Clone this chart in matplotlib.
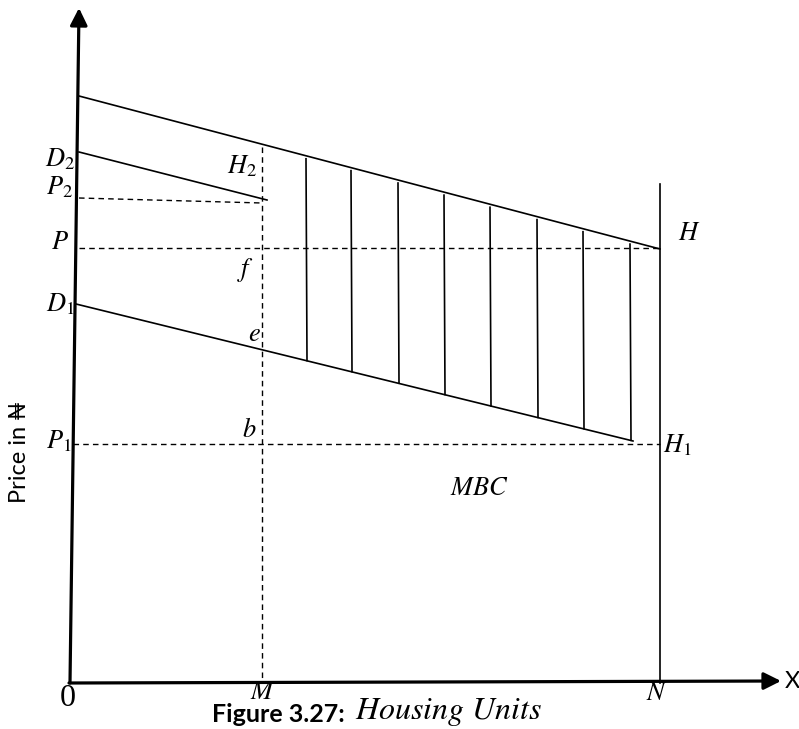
import matplotlib.pyplot as plt
import numpy as np

plt.rcParams['mathtext.fontset'] = 'stix'

# Diagram geometry (picture units: x to the right, y downward)
origin = (70, 683)
y_axis_tip = (79, 8)
x_axis_tip = (781, 681)

# solid lines: top demand line, D2 line, D1 line
top_x = [79, 660]
top_y = [96, 249]
d2_x = [79, 267]
d2_y = [152, 200]
d1_x = [76, 633]
d1_y = [304, 441]

# dashed guide lines
p2_x = [79, 262]
p2_y = [198, 203]
p_x = [79, 660]
p_y = [248, 248]
p1_x = [73, 660]
p1_y = [444, 444]
m_x = [262, 262]
m_y = [147, 683]

# vertical supply line at N
n_x = [660, 660]
n_y = [184, 683]

# hatching between the top line and D1
hatch_x = [306, 351, 398, 444, 490, 537, 583, 630]

# labels
math_labels = ['$D_2$', '$P_2$', '$P$', '$D_1$', '$P_1$', '$H_2$', '$f$', '$e$', '$b$',
               '$H$', '$H_1$', '$MBC$', '$M$', '$N$']
math_x = [60, 59, 60, 60, 59, 242, 246, 254, 249, 689, 677, 479, 263, 657]
math_y = [159, 187, 242, 304, 441, 166, 270, 334, 430, 233, 445, 488, 692, 693]

fig = plt.figure(figsize=(7.99, 7.29), dpi=100)
ax = fig.add_axes([0, 0, 1, 1])
ax.set_xlim(0, 799)
ax.set_ylim(729, 0)
ax.axis('off')

# axes with arrowheads
ax.annotate('', xy=y_axis_tip, xytext=origin,
            arrowprops=dict(arrowstyle='-|>', lw=2.3, color='black', mutation_scale=26,
                            shrinkA=0, shrinkB=0))
ax.annotate('', xy=x_axis_tip, xytext=(origin[0] - 1, origin[1]),
            arrowprops=dict(arrowstyle='-|>', lw=2.3, color='black', mutation_scale=26,
                            shrinkA=0, shrinkB=0))

lw = 1.2
ax.plot(top_x, top_y, color='black', lw=lw)
ax.plot(d2_x, d2_y, color='black', lw=lw)
ax.plot(d1_x, d1_y, color='black', lw=lw)
ax.plot(n_x, n_y, color='black', lw=lw)

dash = dict(color='black', lw=1.0, dashes=(4, 3))
ax.plot(p2_x, p2_y, **dash)
ax.plot(p_x, p_y, **dash)
ax.plot(p1_x, p1_y, **dash)
ax.plot(m_x, m_y, **dash)

for hx in hatch_x:
    y_top = np.interp(hx, top_x, top_y) + 3
    y_bot = np.interp(hx, d1_x, d1_y)
    ax.plot([hx, hx + 1], [y_top, y_bot], color='black', lw=lw)

for t, x, y in zip(math_labels, math_x, math_y):
    ax.text(x, y, t, fontsize=19, ha='center', va='center')

ax.text(68, 698, '0', fontsize=23, family='Liberation Serif', ha='center', va='center')
ax.text(792, 681, 'X', fontsize=17, family=['Lato', 'DejaVu Sans'], ha='center', va='center')

ax.text(20, 452, 'Price in ₦', fontsize=17, rotation=90, family=['Lato', 'DejaVu Sans'],
        ha='center', va='center')

ax.text(345, 715, 'Figure 3.27:', fontsize=18, fontweight='bold', family=['Lato', 'DejaVu Sans'],
        ha='right', va='center')
ax.text(355, 712, '$Housing\\ Units$', fontsize=23, ha='left', va='center')

fig.savefig('out.png', dpi=100)
